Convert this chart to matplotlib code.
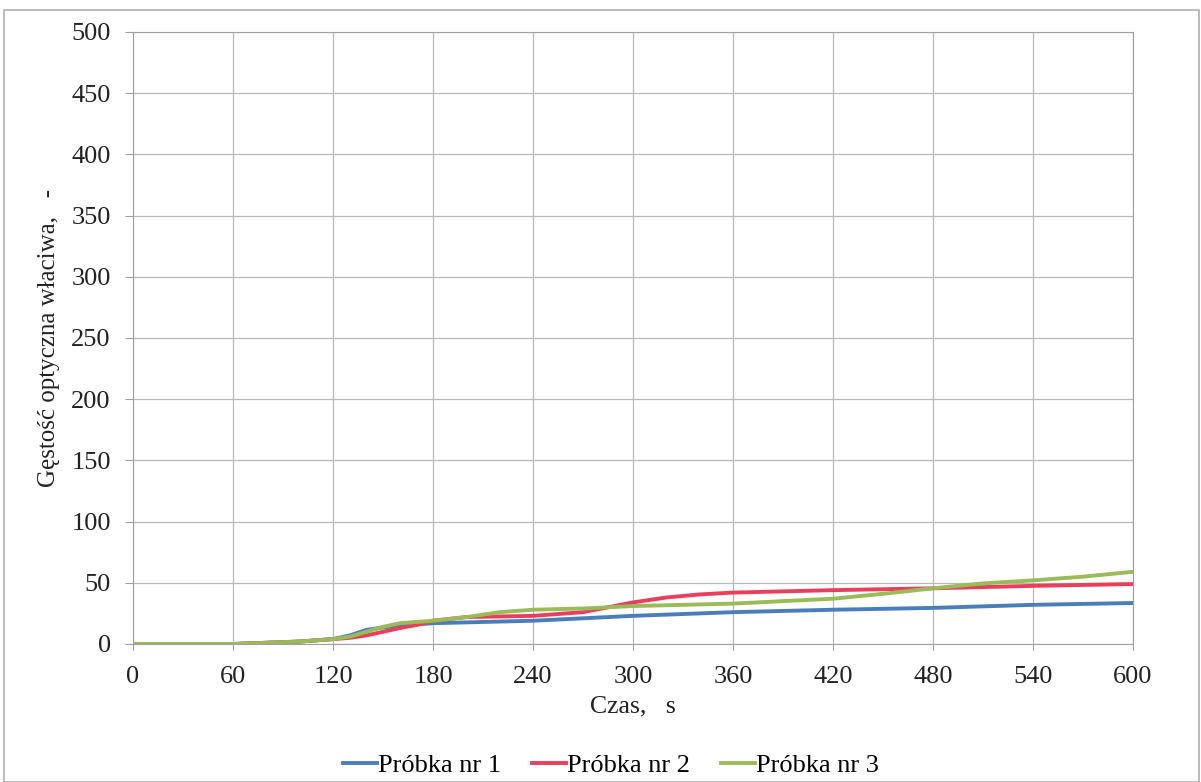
import matplotlib.pyplot as plt
from matplotlib.patches import Rectangle

plt.rcParams['font.family'] = ['Liberation Serif', 'DejaVu Serif']

# czas [s]
t1 = [0, 60, 100, 120, 130, 140, 150, 160, 180, 240, 300, 360, 420, 480, 540, 600]
p1 = [0, 0, 2, 4, 7, 11.5, 13.5, 15, 17, 19, 23, 26, 28, 29.5, 32, 33.5]

t2 = [0, 60, 100, 120, 130, 140, 150, 160, 170, 180, 200, 240, 270, 285, 300, 320, 340, 360, 420, 480, 540, 600]
p2 = [0, 0, 2, 4, 5, 7, 10, 13, 15.5, 19, 22, 23, 26, 30, 34, 38, 40.5, 42, 44, 45.5, 47.5, 49]

t3 = [0, 60, 100, 120, 130, 140, 150, 160, 180, 200, 220, 240, 270, 300, 360, 420, 450, 480, 510, 540, 570, 600]
p3 = [0, 0, 2, 4, 6, 10, 14, 17, 19, 22, 26, 28, 29, 31, 33, 37, 41, 45.5, 49.5, 52, 55, 59]

labels = ['Próbka nr 1', 'Próbka nr 2', 'Próbka nr 3']
colors = ['#4a7ebb', '#e8405c', '#9bbb59']

fig = plt.figure(figsize=(12.01, 7.82), dpi=100)
ax = fig.add_axes([133 / 1201, 138 / 782, 1000 / 1201, 612 / 782])

for t, p, lab, c in zip([t1, t2, t3], [p1, p2, p3], labels, colors):
    ax.plot(t, p, color=c, lw=2.8, label=lab, solid_joinstyle='round')

ax.set_xlim(0, 600)
ax.set_ylim(0, 500)
ax.set_xticks(range(0, 601, 60))
ax.set_yticks(range(0, 501, 50))
ax.grid(True, color='#b8b8b8', lw=0.9)
for s in ax.spines.values():
    s.set_color('#a0a0a0')
ax.tick_params(labelsize=19, colors='#a0a0a0', labelcolor='#222222')
ax.tick_params(axis='y', length=6, pad=10)
ax.tick_params(axis='x', length=4.5, pad=11)
ax.set_xlabel('Czas,   s', fontsize=18.5, color='#222222', labelpad=5.5)
ax.set_ylabel('Gęstość optyczna właciwa,   -', fontsize=18, color='#222222', labelpad=8)

ax.legend(loc='upper center', bbox_to_anchor=(0.478, -0.14), ncol=3, frameon=False,
          fontsize=19, handlelength=1.3, handletextpad=0.05, columnspacing=1.15)

fig.patches.append(Rectangle((4 / 1201, 0), 1195 / 1201, 772 / 782, transform=fig.transFigure,
                             fill=False, edgecolor='#b0b0b0', lw=1.2))

fig.savefig('out.png', dpi=100)
